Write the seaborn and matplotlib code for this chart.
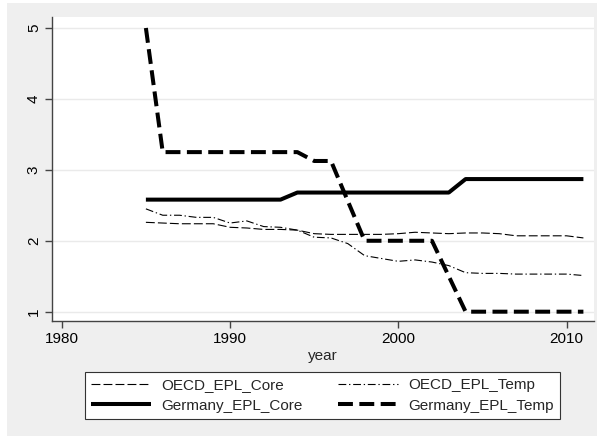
import matplotlib
matplotlib.use("Agg")
import matplotlib.pyplot as plt
import matplotlib.patches as mpatches
import seaborn as sns
import pandas as pd

years = list(range(1985, 2012))

oecd_core = [2.26, 2.25, 2.24, 2.24, 2.24, 2.19, 2.18, 2.16, 2.16, 2.15,
             2.10, 2.09, 2.09, 2.09, 2.09, 2.10, 2.12, 2.11, 2.10, 2.11,
             2.11, 2.10, 2.07, 2.07, 2.07, 2.07, 2.04]
oecd_temp = [2.45, 2.36, 2.36, 2.33, 2.33, 2.25, 2.28, 2.20, 2.19, 2.15,
             2.05, 2.04, 1.96, 1.79, 1.75, 1.71, 1.73, 1.70, 1.65, 1.55,
             1.54, 1.54, 1.53, 1.53, 1.53, 1.53, 1.51]
germany_core = [2.58] * 9 + [2.68] * 10 + [2.87] * 8
germany_temp = [5.0, 3.25, 3.25, 3.25, 3.25, 3.25, 3.25, 3.25, 3.25, 3.25,
                3.125, 3.125, 2.56, 2.0, 2.0, 2.0, 2.0, 2.0, 1.5, 1.0,
                1.0, 1.0, 1.0, 1.0, 1.0, 1.0, 1.0]

df = pd.DataFrame({"year": years,
                   "OECD_EPL_Core": oecd_core,
                   "OECD_EPL_Temp": oecd_temp,
                   "Germany_EPL_Core": germany_core,
                   "Germany_EPL_Temp": germany_temp})

sns.set_style("white")
plt.rcParams["font.family"] = ["Liberation Sans", "DejaVu Sans"]
fs = 11

fig = plt.figure(figsize=(5.97, 4.36), dpi=100, facecolor="white")
# gray Stata-like background (small white strip left/top as in the source)
fig.patches.append(mpatches.Rectangle((7 / 597, 0), 1, 1 - 3 / 436,
                                      transform=fig.transFigure,
                                      facecolor="#efefef", edgecolor="none",
                                      zorder=-10))
ax = fig.add_axes([52 / 597, 1 - 320.7 / 436, (594 - 52) / 597, (320.7 - 17) / 436])
ax.set_facecolor("white")

styles = {
    "OECD_EPL_Core": dict(lw=0.8, ls=(0, (8, 2.8))),
    "Germany_EPL_Core": dict(lw=2.9, ls="-"),
    "OECD_EPL_Temp": dict(lw=0.8, ls=(0, (7, 2.5, 1.2, 2.5))),
    "Germany_EPL_Temp": dict(lw=2.9, ls=(0, (3.7, 1.6))),
}
for name, st in styles.items():
    sns.lineplot(data=df, x="year", y=name, ax=ax, color="black",
                 linewidth=st["lw"], linestyle=st["ls"], label=name,
                 solid_capstyle="butt", dash_capstyle="butt")

ax.set_xlim(1979.42, 2011.63)
ax.set_ylim(0.873, 5.155)
ax.set_xticks([1980, 1990, 2000, 2010])
ax.set_yticks([1, 2, 3, 4, 5])
ax.yaxis.grid(True, color="#eaeaea", linewidth=1)
ax.xaxis.grid(False)
for s in ["top", "right"]:
    ax.spines[s].set_visible(False)
for s in ["left", "bottom"]:
    ax.spines[s].set_color("#444444")
    ax.spines[s].set_linewidth(1)
ax.tick_params(axis="both", which="both", direction="out", length=5, width=1,
               color="#444444", labelsize=fs, labelcolor="black",
               left=True, bottom=True, pad=3)
plt.setp(ax.get_yticklabels(), rotation=90, va="center")
ax.set_xlabel("year", fontsize=fs, labelpad=2)
ax.set_ylabel("")

ax.get_legend().remove()
h, l = ax.get_legend_handles_labels()
leg = fig.legend(h, l, ncol=2, loc="center", bbox_to_anchor=(0.5405, 0.0933),
                 fontsize=fs, frameon=True, fancybox=False, framealpha=1,
                 edgecolor="#333333", handlelength=3.9, handletextpad=0.7,
                 columnspacing=2.3, labelspacing=0.45, borderpad=0.4)
leg.get_frame().set_linewidth(0.8)

fig.savefig("out.png", dpi=100, facecolor=fig.get_facecolor())
